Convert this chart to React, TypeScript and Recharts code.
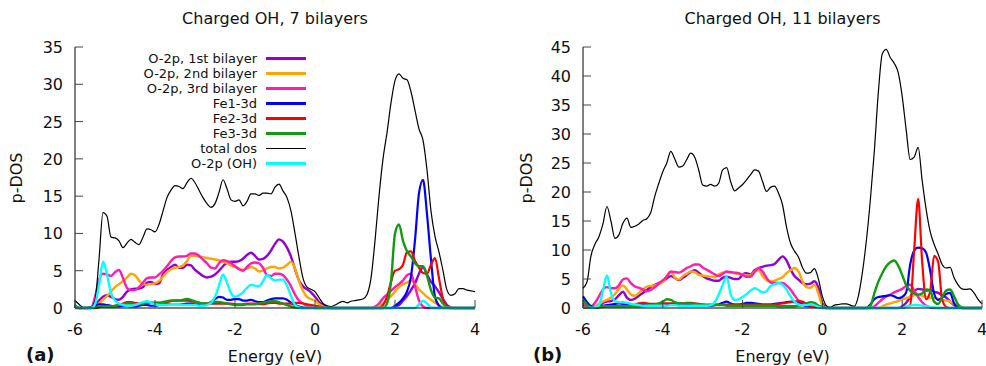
import React from "react";
import { LineChart, Line, XAxis, YAxis, Legend } from "recharts";

// energy grid (eV), shared by both panels
const energy = [
  -6.0, -5.9, -5.8, -5.7, -5.6, -5.5, -5.4, -5.3, -5.2, -5.1,
  -5.0, -4.9, -4.8, -4.7, -4.6, -4.5, -4.4, -4.3, -4.2, -4.1,
  -4.0, -3.9, -3.8, -3.7, -3.6, -3.5, -3.4, -3.3, -3.2, -3.1,
  -3.0, -2.9, -2.8, -2.7, -2.6, -2.5, -2.4, -2.3, -2.2, -2.1,
  -2.0, -1.9, -1.8, -1.7, -1.6, -1.5, -1.4, -1.3, -1.2, -1.1,
  -1.0, -0.9, -0.8, -0.7, -0.6, -0.5, -0.4, -0.3, -0.2, -0.1,
  0.0, 0.1, 0.2, 0.3, 0.4, 0.5, 0.6, 0.7, 0.8, 0.9,
  1.0, 1.1, 1.2, 1.3, 1.4, 1.5, 1.6, 1.7, 1.8, 1.9,
  2.0, 2.1, 2.2, 2.3, 2.4, 2.5, 2.6, 2.7, 2.8, 2.9,
  3.0, 3.1, 3.2, 3.3, 3.4, 3.5, 3.6, 3.7, 3.8, 3.9,
  4.0,
];

// ---- panel (a): 7 bilayers ----
const o2p1st7 = [
  0.2, 0, 0, 0, 0.1, 0.4, 1.0, 1.5, 1.7, 1.5,
  1.2, 1.1, 1.5, 2.2, 2.5, 2.6, 2.6, 2.8, 3.4, 3.5,
  3.2, 3.3, 4.5, 5.1, 5.5, 5.8, 5.4, 5.4, 5.8, 5.7,
  5.1, 4.7, 4.3, 4.1, 4.2, 4.5, 5.0, 5.6, 6.1, 6.2,
  6.2, 6.3, 6.6, 7.1, 7.4, 7.0, 6.5, 6.6, 7.0, 7.7,
  8.6, 9.2, 8.9, 8.1, 6.9, 5.2, 3.7, 2.9, 2.5, 2.1,
  1.5, 0.8, 0.4, 0.15, 0, 0, 0, 0, 0, 0,
  0, 0, 0, 0, 0, 0, 0, 0, 0, 0,
  0.1, 0.4, 1.0, 1.6, 2.4, 3.3, 4.6, 5.5, 4.5, 3.5,
  2.9, 2.1, 1.2, 0.4, 0.1, 0, 0, 0, 0, 0,
  0,
];
const o2p2nd7 = [
  0, 0, 0, 0, 0, 0.1, 0.6, 1.1, 1.6, 2.2,
  2.8, 3.2, 3.6, 4.1, 4.6, 4.4, 3.7, 3.2, 3.1, 3.2,
  3.3, 3.6, 4.2, 4.8, 5.2, 5.4, 5.5, 5.7, 6.3, 7.0,
  7.0, 6.9, 6.8, 6.7, 6.6, 6.5, 6.4, 6.2, 6.0, 5.7,
  5.5, 5.3, 5.1, 5.3, 5.5, 5.3, 4.9, 5.0, 5.3, 5.5,
  5.5, 5.3, 5.4, 5.8, 6.2, 5.3, 3.6, 2.3, 1.5, 1.2,
  1.0, 0.5, 0.2, 0, 0, 0, 0, 0, 0, 0,
  0, 0, 0, 0, 0, 0, 0.2, 0.6, 1.1, 1.6,
  2.2, 2.8, 3.2, 3.4, 3.7, 3.2, 2.5, 2.0, 1.5, 1.1,
  0.7, 0.4, 0.1, 0, 0, 0, 0, 0, 0, 0,
  0,
];
const o2p3rd7 = [
  0.1, 0, 0, 0, 0, 1.5, 3.8, 4.6, 4.5, 4.3,
  4.8, 5.1, 4.0, 2.7, 2.4, 2.4, 2.8, 3.4, 4.0, 4.1,
  4.1, 4.5, 5.0, 5.6, 6.3, 6.8, 6.9, 6.9, 7.0, 7.3,
  7.3, 7.0, 6.5, 6.0, 5.4, 5.3, 6.0, 6.4, 6.3, 6.0,
  5.6, 5.2, 5.0, 5.5, 6.0, 6.1, 6.0, 5.4, 4.4, 4.3,
  4.6, 4.6, 4.4, 3.8, 2.9, 1.8, 1.0, 0.6, 0.3, 0.1,
  0, 0, 0, 0, 0, 0, 0, 0, 0, 0,
  0, 0, 0, 0, 0, 0.2, 0.6, 1.3, 1.8, 2.3,
  2.8, 3.2, 3.7, 4.4, 4.6, 2.9, 1.0, 0.2, 0, 0,
  0, 0, 0, 0, 0, 0, 0, 0, 0, 0,
  0,
];
const fe1d7 = [
  0.3, 0, 0, 0, 0.1, 0.3, 0.5, 0.5, 0.4, 0.3,
  0.2, 0.2, 0.3, 0.3, 0.2, 0.2, 0.3, 0.4, 0.4, 0.3,
  0.3, 0.4, 0.5, 0.5, 0.5, 0.5, 0.5, 0.5, 0.6, 0.6,
  0.5, 0.4, 0.4, 0.5, 0.8, 1.2, 1.5, 1.4, 1.1, 1.1,
  1.2, 1.2, 1.0, 1.0, 1.1, 0.9, 0.8, 0.8, 1.0, 1.2,
  1.3, 1.3, 1.3, 1.1, 0.7, 0.4, 0.2, 0.1, 0, 0,
  0, 0, 0, 0, 0, 0, 0, 0, 0, 0,
  0, 0, 0, 0, 0, 0, 0, 0, 0, 0,
  0.3, 0.7, 1.3, 2.2, 4.2, 9.1, 15.4, 17.2, 12.6, 6.5,
  1.5, 0.3, 0, 0, 0, 0, 0, 0, 0, 0,
  0,
];
const fe2d7 = [
  0.2, 0, 0, 0, 0, 0, 0.2, 0.3, 0.2, 0.2,
  0.3, 0.4, 0.6, 0.8, 0.8, 0.7, 0.6, 0.6, 0.7, 0.7,
  0.7, 0.7, 0.7, 0.8, 0.9, 1.0, 1.0, 1.0, 1.0, 0.9,
  0.8, 0.7, 0.6, 0.6, 0.6, 0.6, 0.6, 0.6, 0.6, 0.6,
  0.5, 0.5, 0.5, 0.6, 0.6, 0.6, 0.5, 0.5, 0.6, 0.7,
  0.7, 0.6, 0.6, 0.6, 0.6, 0.7, 0.7, 0.6, 0.5, 0.4,
  0.3, 0.2, 0.1, 0, 0, 0, 0, 0, 0, 0,
  0, 0, 0, 0, 0, 0, 0, 0.4, 1.5, 3.5,
  5.0, 5.2, 5.8, 7.5, 7.6, 6.3, 5.4, 4.7, 4.6, 5.8,
  6.7, 4.0, 1.2, 0.2, 0, 0, 0, 0, 0, 0,
  0,
];
const fe3d7 = [
  0.4, 0, 0, 0, 0, 0, 0.1, 0.2, 0.2, 0.2,
  0.3, 0.4, 0.5, 0.6, 0.6, 0.5, 0.5, 0.6, 0.7, 0.7,
  0.7, 0.7, 0.8, 0.9, 1.0, 1.0, 1.0, 1.1, 1.2, 1.1,
  0.9, 0.7, 0.6, 0.6, 0.7, 0.8, 0.8, 0.7, 0.6, 0.5,
  0.4, 0.4, 0.4, 0.5, 0.5, 0.5, 0.6, 0.7, 0.8, 0.9,
  0.9, 0.8, 0.6, 0.4, 0.2, 0.1, 0, 0, 0, 0,
  0, 0, 0, 0, 0, 0, 0, 0, 0, 0,
  0, 0, 0, 0, 0, 0, 0, 0, 0.6, 3.5,
  10.0, 11.2, 9.0, 7.6, 6.9, 6.0, 5.6, 5.6, 4.3, 2.4,
  1.4, 1.3, 0.6, 0.1, 0, 0, 0, 0, 0, 0,
  0,
];
const totalDos7 = [
  1.0, 0.5, 0.1, 0.1, 0.1, 1.0, 6.5, 12.8, 12.3, 9.5,
  9.4, 9.0, 8.1, 8.7, 9.2, 8.8, 8.5, 9.5, 10.6, 10.5,
  10.2, 11.2, 13.0, 14.8, 15.8, 16.4, 16.3, 16.0, 16.8, 17.4,
  16.8, 15.8, 14.8, 14.0, 13.5, 14.0, 15.5, 17.2, 16.0, 14.5,
  14.3, 14.5, 13.7, 14.3, 15.3, 15.3, 15.1, 15.4, 15.4, 15.3,
  16.2, 16.6, 15.7, 14.8, 13.0, 10.0, 6.8, 4.0, 2.8, 2.5,
  2.2, 1.4, 0.6, 0.3, 0.2, 0.4, 0.7, 0.9, 0.7, 0.9,
  1.0, 1.1, 1.2, 1.8, 4.0, 9.0, 15.0, 20.0, 23.5, 27.5,
  30.5, 31.4, 30.8, 30.6, 29.0, 26.5, 24.0, 22.5, 18.5, 13.0,
  9.6, 7.5, 5.0, 2.4, 1.7, 1.9, 2.6, 2.6, 2.4, 2.3,
  2.2,
];
const ohO2p7 = [
  0, 0, 0, 0, 0, 0.5, 3.0, 6.2, 4.5, 2.0,
  1.0, 0.6, 0.4, 0.3, 0.3, 0.4, 0.6, 0.8, 0.9, 0.7,
  0.5, 0.4, 0.4, 0.4, 0.5, 0.5, 0.5, 0.4, 0.4, 0.4,
  0.4, 0.3, 0.3, 0.4, 0.7, 1.5, 3.0, 4.5, 3.4, 2.0,
  1.5, 1.7, 2.1, 2.7, 3.1, 3.0, 2.9, 3.6, 4.4, 4.0,
  3.7, 3.8, 3.8, 3.0, 1.6, 0.4, 0.1, 0, 0, 0,
  0, 0, 0, 0, 0, 0, 0, 0, 0, 0,
  0, 0, 0, 0, 0, 0, 0, 0, 0, 0,
  0, 0, 0, 0, 0, 0, 0.5, 0.95, 0.6, 0.1,
  0, 0, 0, 0, 0, 0, 0, 0, 0, 0,
  0,
];

// ---- panel (b): 11 bilayers ----
const o2p1st11 = [
  0.5, 0.2, 0.1, 0.2, 0.5, 0.9, 1.1, 1.2, 1.5, 2.2,
  2.8, 1.8, 1.4, 1.6, 2.1, 2.6, 3.1, 3.6, 4.0, 4.3,
  4.6, 5.1, 5.5, 5.2, 4.8, 5.2, 5.7, 6.2, 6.5, 6.1,
  5.5, 5.1, 4.9, 4.7, 4.7, 5.2, 5.4, 5.2, 5.0, 5.0,
  5.8, 6.0, 5.8, 6.5, 6.9, 7.1, 7.3, 7.4, 7.6, 8.3,
  8.9, 8.2, 6.7, 5.5, 4.9, 4.3, 4.1, 4.2, 4.6, 3.5,
  0.8, 0.1, 0, 0, 0, 0, 0, 0, 0, 0,
  0, 0, 0, 0, 0, 0, 0, 0, 0, 0,
  0.3, 0.9, 1.9, 2.9, 3.3, 3.2, 3.0, 3.1, 2.8, 2.6,
  2.2, 1.8, 1.1, 0.5, 0.1, 0, 0, 0, 0, 0,
  0,
];
const o2p2nd11 = [
  0.2, 0.1, 0.1, 0.3, 0.7, 1.1, 1.4, 1.8, 2.4, 3.3,
  3.9, 3.2, 2.3, 2.1, 2.6, 3.2, 3.7, 3.8, 3.9, 4.1,
  4.5, 5.5, 6.2, 5.3, 4.9, 5.5, 5.9, 6.3, 6.2, 5.7,
  5.6, 5.5, 5.4, 5.3, 5.8, 6.1, 6.2, 6.1, 6.0, 5.9,
  5.8, 5.6, 5.6, 6.3, 6.5, 5.5, 4.8, 4.6, 4.7, 5.0,
  5.3, 6.0, 6.5, 6.9, 6.3, 4.6, 3.6, 3.5, 4.0, 2.5,
  0.4, 0, 0, 0, 0, 0, 0, 0, 0, 0,
  0, 0, 0, 0, 0, 0.3, 0.6, 0.8, 1.0, 1.2,
  1.5, 1.7, 1.9, 2.2, 2.3, 2.1, 1.9, 1.8, 1.7, 1.6,
  1.4, 1.3, 1.1, 0.7, 0.3, 0, 0, 0, 0, 0,
  0,
];
const o2p3rd11 = [
  0.8, 0.4, 0.3, 0.9, 2.0, 3.2, 3.6, 3.4, 3.4, 3.9,
  4.9, 5.1, 4.3, 3.7, 3.5, 3.2, 2.9, 3.1, 3.6, 4.2,
  4.8, 5.4, 6.3, 6.2, 6.1, 6.4, 6.9, 7.2, 7.5, 7.5,
  7.0, 6.6, 6.2, 5.8, 5.5, 5.9, 6.3, 6.2, 6.1, 6.0,
  5.7, 5.4, 5.4, 6.2, 6.9, 6.3, 5.2, 4.4, 4.3, 4.3,
  4.3, 3.9, 3.2, 2.2, 1.3, 0.9, 0.5, 0.3, 0.2, 0.1,
  0, 0, 0, 0, 0, 0, 0, 0, 0, 0,
  0, 0, 0, 0.3, 0.9, 1.5, 2.0, 2.3, 2.7, 3.0,
  3.3, 3.8, 4.0, 3.0, 1.9, 1.0, 0.4, 0.1, 0, 0,
  0, 0, 0, 0, 0, 0, 0, 0, 0, 0,
  0,
];
const fe1d11 = [
  2.0, 1.0, 0.3, 0.1, 0.2, 0.4, 0.5, 0.6, 0.7, 0.8,
  0.7, 0.6, 0.5, 0.4, 0.4, 0.5, 0.5, 0.5, 0.5, 0.4,
  0.4, 0.5, 0.6, 0.6, 0.6, 0.6, 0.6, 0.6, 0.5, 0.5,
  0.4, 0.4, 0.4, 0.5, 0.6, 0.9, 1.1, 0.8, 0.6, 0.6,
  0.7, 0.9, 0.9, 0.8, 0.7, 0.6, 0.6, 0.6, 0.7, 0.8,
  0.9, 1.0, 1.1, 1.0, 0.9, 0.6, 0.3, 0.3, 0.6, 0.4,
  0.1, 0, 0, 0, 0, 0, 0, 0, 0, 0,
  0, 0, 0.6, 1.5, 1.9, 2.0, 2.1, 2.2, 2.0, 1.7,
  1.9, 2.7, 7.5, 9.9, 10.4, 10.3, 9.5, 6.5, 2.5, 1.4,
  1.8, 2.4, 2.6, 0.8, 0.1, 0, 0, 0, 0, 0,
  0,
];
const fe2d11 = [
  0.2, 0.1, 0, 0, 0.1, 0.2, 0.3, 0.3, 0.3, 0.3,
  0.3, 0.3, 0.4, 0.6, 0.8, 0.9, 0.8, 0.7, 0.7, 0.7,
  0.8, 0.8, 0.8, 0.8, 0.8, 0.8, 0.9, 0.9, 0.8, 0.7,
  0.6, 0.6, 0.6, 0.6, 0.6, 0.6, 0.6, 0.6, 0.6, 0.6,
  0.6, 0.6, 0.6, 0.6, 0.6, 0.6, 0.6, 0.6, 0.6, 0.7,
  0.8, 0.9, 1.0, 1.1, 1.2, 1.1, 0.7, 0.4, 0.3, 0.2,
  0.1, 0, 0, 0, 0, 0, 0, 0, 0, 0,
  0, 0, 0, 0, 0, 0, 0, 0, 0, 0,
  0, 0.2, 0.5, 10.0, 18.8, 8.0, 1.5, 2.8, 9.0, 8.0,
  1.5, 0.2, 0, 0, 0, 0, 0, 0, 0, 0,
  0,
];
const fe3d11 = [
  1.4, 0.6, 0.1, 0.1, 0.2, 0.3, 0.3, 0.3, 0.3, 0.3,
  0.3, 0.3, 0.3, 0.3, 0.3, 0.3, 0.4, 0.5, 0.6, 0.8,
  1.1, 1.5, 1.4, 1.0, 0.8, 0.8, 0.8, 0.8, 0.7, 0.6,
  0.6, 0.5, 0.5, 0.5, 0.5, 0.5, 0.4, 0.4, 0.4, 0.4,
  0.4, 0.4, 0.4, 0.4, 0.4, 0.4, 0.4, 0.4, 0.4, 0.3,
  0.3, 0.3, 0.3, 0.3, 0.4, 0.5, 0.8, 1.0, 0.9, 0.4,
  0.1, 0, 0, 0, 0, 0, 0, 0, 0, 0,
  0, 0, 0.3, 2.5, 4.5, 6.0, 7.2, 7.9, 8.2, 7.3,
  5.7, 3.9, 3.0, 2.5, 2.3, 2.5, 3.2, 3.0, 1.1, 0.7,
  1.8, 3.0, 3.2, 2.0, 0.6, 0.1, 0, 0, 0, 0,
  0,
];
const totalDos11 = [
  3.4, 4.5, 9.0, 11.0, 12.3, 14.5, 17.5, 15.0, 12.0, 12.6,
  14.6, 15.5, 13.9, 14.1, 14.5, 15.1, 15.4, 16.5, 19.3, 21.5,
  23.5, 25.0, 27.0, 25.7, 24.3, 24.5, 25.6, 26.7, 26.0, 23.8,
  21.2, 21.0, 21.3, 21.0, 21.5, 23.8, 24.2, 21.8, 20.2, 20.7,
  21.3, 22.1, 23.0, 23.8, 23.6, 21.8, 20.1, 20.8, 21.0, 19.8,
  17.8, 14.0, 11.2, 9.8, 8.8, 7.0, 6.0, 6.1, 6.8, 5.0,
  2.0, 0.4, 0.1, 0.5, 0.6, 0.7, 0.7, 0.5, 0.3, 2.0,
  6.0, 11.5, 18.5, 26.9, 37.0, 43.8, 44.6, 43.2, 42.2, 40.6,
  36.5, 30.7, 25.6, 26.0, 27.7, 22.0, 17.0, 13.2, 11.0, 9.3,
  7.5, 6.9, 7.0, 5.2, 4.0, 3.3, 3.2, 3.3, 2.6, 1.5,
  0.7,
];
const ohO2p11 = [
  0.1, 0, 0, 0.1, 0.5, 3.0, 5.6, 2.6, 1.2, 1.0,
  1.0, 0.9, 0.7, 0.6, 0.5, 0.4, 0.4, 0.4, 0.4, 0.4,
  0.4, 0.4, 0.5, 0.5, 0.4, 0.4, 0.4, 0.4, 0.4, 0.4,
  0.4, 0.4, 0.5, 1.0, 2.3, 4.0, 5.4, 2.4, 1.4, 1.5,
  1.9, 2.4, 3.0, 3.4, 3.1, 2.7, 2.9, 3.8, 4.1, 4.3,
  4.0, 3.2, 2.0, 1.1, 0.6, 0.5, 0.5, 0.6, 0.5, 0.2,
  0, 0, 0, 0, 0, 0, 0, 0, 0, 0,
  0, 0, 0, 0, 0, 0, 0, 0, 0, 0,
  0, 0.2, 0.4, 0.5, 0.5, 0.4, 0.3, 0.2, 0.1, 0,
  0, 0, 0, 0, 0, 0, 0, 0, 0, 0,
  0,
];

const seriesNames = [
  "O-2p, 1st bilayer",
  "O-2p, 2nd bilayer",
  "O-2p, 3rd bilayer",
  "Fe1-3d",
  "Fe2-3d",
  "Fe3-3d",
  "total dos",
  "O-2p (OH)",
];
const seriesKeys = ["o1", "o2", "o3", "fe1", "fe2", "fe3", "total", "oh"];
const seriesColors = ["#9400d3", "#ffa500", "#ff1cb0", "#0000ff", "#ff0000", "#139a13", "#000000", "#00ffff"];
const seriesWidths = [2.4, 2.4, 2.4, 2.2, 2.2, 2.4, 1.2, 2.4];

const xTicks = [-6, -4, -2, 0, 2, 4];
const yTicks7 = [0, 5, 10, 15, 20, 25, 30, 35];
const yTicks11 = [0, 5, 10, 15, 20, 25, 30, 35, 40, 45];

const FONT = "'DejaVu Sans', Verdana, sans-serif";
const TICK = "#444";

function buildRows(cols: number[][]) {
  return energy.map((e, i) => {
    const row: Record<string, number> = { e };
    seriesKeys.forEach((k, j) => {
      row[k] = cols[j][i];
    });
    return row;
  });
}

const rows7 = buildRows([o2p1st7, o2p2nd7, o2p3rd7, fe1d7, fe2d7, fe3d7, totalDos7, ohO2p7]);
const rows11 = buildRows([o2p1st11, o2p2nd11, o2p3rd11, fe1d11, fe2d11, fe3d11, totalDos11, ohO2p11]);

const BottomTick = (props: any) => {
  const { x, y, payload } = props;
  return (
    <g>
      <line x1={x} y1={y} x2={x} y2={y - 8} stroke={TICK} />
      <text x={x} y={y + 27} textAnchor="middle" fontSize={16} fontFamily={FONT} fill="#111">
        {payload.value}
      </text>
    </g>
  );
};

const TopTick = (props: any) => {
  const { x, y } = props;
  return <line x1={x} y1={y} x2={x} y2={y + 8} stroke={TICK} />;
};

const LeftTick = (props: any) => {
  const { x, y, payload } = props;
  return (
    <g>
      <line x1={x} y1={y} x2={x + 8} y2={y} stroke={TICK} />
      <text x={x - 12} y={y + 6} textAnchor="end" fontSize={16} fontFamily={FONT} fill="#111">
        {payload.value}
      </text>
    </g>
  );
};

const RightTick = (props: any) => {
  const { x, y } = props;
  return <line x1={x} y1={y} x2={x - 8} y2={y} stroke={TICK} />;
};

// key in gnuplot order, whatever order the payload comes in
const KeyBox = (props: any) => {
  const items = [...(props.payload || [])].sort(
    (a: any, b: any) => seriesNames.indexOf(a.value) - seriesNames.indexOf(b.value)
  );
  return (
    <div style={{ fontFamily: FONT, fontSize: 13, color: "#111" }}>
      {items.map((it: any, i: number) => {
        const idx = seriesNames.indexOf(it.value);
        return (
          <div key={i} style={{ display: "flex", alignItems: "center", height: 15 }}>
            <span style={{ width: 127, textAlign: "right", whiteSpace: "nowrap", lineHeight: "15px" }}>{it.value}</span>
            <span
              style={{
                marginLeft: 9,
                width: 40,
                height: idx === 6 ? 1.2 : 2.4,
                background: it.color,
              }}
            />
          </div>
        );
      })}
    </div>
  );
};

type PanelProps = {
  left: number;
  width: number;
  marginLeft: number;
  marginRight: number;
  rows: Record<string, number>[];
  yMax: number;
  yTicks: number[];
  title: string;
  tag: string;
  tagX: number;
  yLabelX: number;
  showKey: boolean;
};

function DosPanel(p: PanelProps) {
  const height = 366;
  const plotLeft = p.marginLeft + 40;
  const plotRight = p.width - p.marginRight;
  const mid = (plotLeft + plotRight) / 2;
  return (
    <div style={{ position: "absolute", left: p.left, top: 0, width: p.width, height }}>
      <LineChart
        width={p.width}
        height={height}
        data={p.rows}
        margin={{ top: 47, right: p.marginRight, bottom: 28, left: p.marginLeft }}
      >
        <XAxis
          xAxisId="b"
          dataKey="e"
          type="number"
          domain={[-6, 4]}
          ticks={xTicks}
          interval={0}
          height={30}
          tickSize={0}
          tickMargin={0}
          tickLine={false}
          tick={<BottomTick />}
          axisLine={{ stroke: "#000" }}
        />
        <XAxis
          xAxisId="t"
          orientation="top"
          dataKey="e"
          type="number"
          domain={[-6, 4]}
          ticks={xTicks}
          interval={0}
          height={0}
          tickSize={0}
          tickMargin={0}
          tickLine={false}
          tick={<TopTick />}
          axisLine={{ stroke: "#000" }}
        />
        <YAxis
          yAxisId="l"
          type="number"
          domain={[0, p.yMax]}
          ticks={p.yTicks}
          interval={0}
          width={40}
          tickSize={0}
          tickMargin={0}
          tickLine={false}
          tick={<LeftTick />}
          axisLine={{ stroke: "#000" }}
        />
        <YAxis
          yAxisId="r"
          orientation="right"
          type="number"
          domain={[0, p.yMax]}
          ticks={p.yTicks}
          interval={0}
          width={0}
          tickSize={0}
          tickMargin={0}
          tickLine={false}
          tick={<RightTick />}
          axisLine={{ stroke: "#000" }}
        />
        {p.showKey && (
          <Legend
            layout="vertical"
            align="center"
            verticalAlign="middle"
            content={<KeyBox />}
            wrapperStyle={{ left: 130, top: 51, width: 180, height: 120 }}
          />
        )}
        {seriesKeys.map((k, i) => (
          <Line
            key={k}
            xAxisId="b"
            yAxisId="l"
            type="monotone"
            dataKey={k}
            name={seriesNames[i]}
            stroke={seriesColors[i]}
            strokeWidth={seriesWidths[i]}
            dot={false}
            activeDot={false}
            isAnimationActive={false}
          />
        ))}
      </LineChart>
      <div
        style={{
          position: "absolute",
          left: mid - 150,
          width: 300,
          top: 10,
          textAlign: "center",
          fontFamily: FONT,
          fontSize: 16,
          lineHeight: "18px",
          color: "#111",
        }}
      >
        {p.title}
      </div>
      <div
        style={{
          position: "absolute",
          left: mid - 100,
          width: 200,
          top: 348,
          textAlign: "center",
          fontFamily: FONT,
          fontSize: 16,
          lineHeight: "18px",
          color: "#111",
        }}
      >
        Energy (eV)
      </div>
      <div
        style={{
          position: "absolute",
          left: p.yLabelX,
          top: 178,
          transform: "translate(-50%, -50%) rotate(-90deg)",
          fontFamily: FONT,
          fontSize: 16,
          lineHeight: "18px",
          whiteSpace: "nowrap",
          color: "#111",
        }}
      >
        p-DOS
      </div>
      <div
        style={{
          position: "absolute",
          left: p.tagX,
          top: 345,
          fontFamily: FONT,
          fontSize: 18,
          fontWeight: "bold",
          lineHeight: "20px",
          color: "#111",
        }}
      >
        {p.tag}
      </div>
    </div>
  );
}

export default function App() {
  return (
    <div
      style={{
        position: "absolute",
        left: 0,
        top: 0,
        width: 986,
        height: 366,
        overflow: "hidden",
        background: "#fff",
      }}
    >
      <DosPanel
        left={0}
        width={490}
        marginLeft={35}
        marginRight={15}
        rows={rows7}
        yMax={35}
        yTicks={yTicks7}
        title="Charged OH, 7 bilayers"
        tag="(a)"
        tagX={26}
        yLabelX={17}
        showKey
      />
      <DosPanel
        left={500}
        width={486}
        marginLeft={43}
        marginRight={4}
        rows={rows11}
        yMax={45}
        yTicks={yTicks11}
        title="Charged OH, 11 bilayers"
        tag="(b)"
        tagX={33}
        yLabelX={27}
        showKey={false}
      />
    </div>
  );
}
